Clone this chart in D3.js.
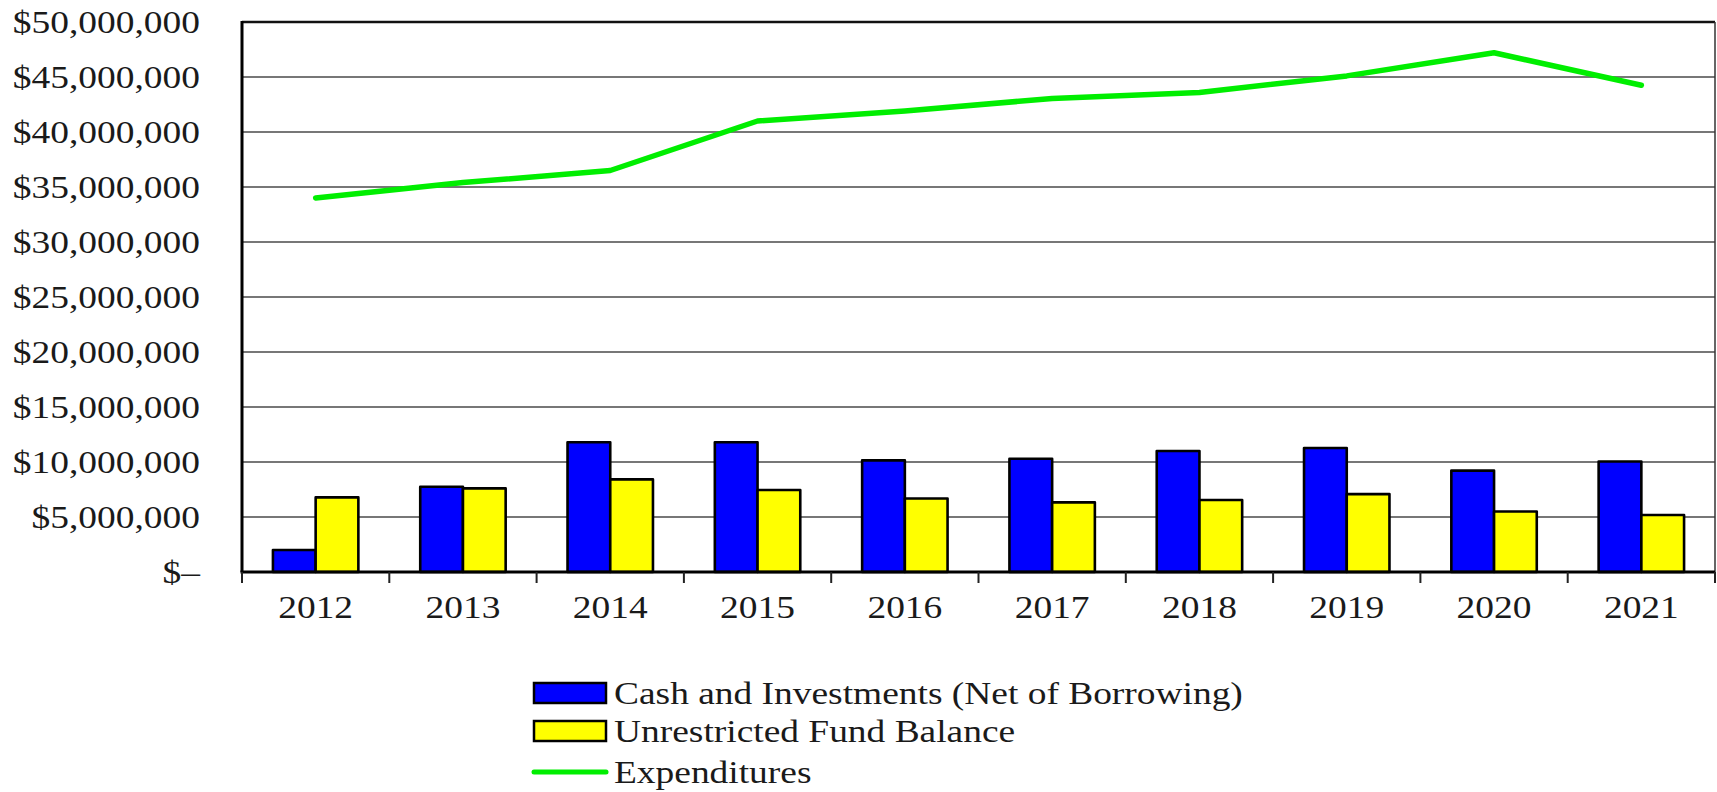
<!DOCTYPE html>
<html>
<head>
<meta charset="utf-8">
<script src="https://cdn.jsdelivr.net/npm/d3@7"></script>
<style>
  html, body { margin: 0; padding: 0; background: #fff; }
  svg { display: block; }
  text { font-family: "Liberation Serif", "Times New Roman", serif; fill: #1a1a1a; }
</style>
</head>
<body>
<svg id="chart" width="1717" height="792"></svg>
<script>
const years = ["2012","2013","2014","2015","2016","2017","2018","2019","2020","2021"];
const cashInvestments = [2000000, 7750000, 11800000, 11800000, 10150000, 10300000, 11000000, 11270000, 9220000, 10050000];
const unrestrictedBalance = [6780000, 7600000, 8420000, 7450000, 6680000, 6330000, 6550000, 7080000, 5500000, 5180000];
const expenditures = [34000000, 35400000, 36500000, 41000000, 41900000, 43050000, 43600000, 45100000, 47200000, 44250000];
const yTicks = [0, 5000000, 10000000, 15000000, 20000000, 25000000, 30000000, 35000000, 40000000, 45000000, 50000000];
const seriesNames = ["Cash and Investments (Net of Borrowing)", "Unrestricted Fund Balance", "Expenditures"];

const svg = d3.select("#chart");
const m = { left: 242, top: 22, right: 1715, bottom: 572 };
const stretch = 1.17;

const x = d3.scaleBand().domain(years).range([m.left, m.right]).paddingInner(0).paddingOuter(0);
const y = d3.scaleLinear().domain([0, 50000000]).range([m.bottom, m.top]);
const sub = d3.scaleBand().domain([0, 1]).range([0, x.bandwidth() * 0.58]);
const groupOffset = (x.bandwidth() - x.bandwidth() * 0.58) / 2;

// gridlines
svg.append("g").selectAll("line").data(yTicks.filter(d => d > 0 && d < 50000000)).join("line")
  .attr("x1", m.left).attr("x2", m.right)
  .attr("y1", d => y(d)).attr("y2", d => y(d))
  .attr("stroke", "#4a4a4a").attr("stroke-width", 1.6);

// frame top/right
svg.append("line").attr("x1", m.left).attr("x2", m.right).attr("y1", m.top).attr("y2", m.top)
  .attr("stroke", "#111").attr("stroke-width", 2.5);
svg.append("line").attr("x1", m.right).attr("x2", m.right).attr("y1", m.top).attr("y2", m.bottom)
  .attr("stroke", "#333").attr("stroke-width", 1.5);

// y axis labels
const yAxis = d3.axisLeft(y).tickValues(yTicks).tickSize(0).tickPadding(0)
  .tickFormat(d => d === 0 ? "$\u2013" : d3.format("$,")(d));
const gy = svg.append("g").attr("transform", `translate(${200},0)`).call(yAxis);
gy.select(".domain").remove();
gy.selectAll("text").attr("font-size", 32).attr("dy", "0.34em")
  .attr("transform", `scale(${stretch},1)`)
  .attr("font-family", "'Liberation Serif', serif").attr("fill", "#1a1a1a");

// bars
const barData = [];
years.forEach((yr, i) => {
  barData.push({ yr, k: 0, v: cashInvestments[i], c: "#0000ff" });
  barData.push({ yr, k: 1, v: unrestrictedBalance[i], c: "#ffff00" });
});
svg.append("g").selectAll("rect").data(barData).join("rect")
  .attr("x", d => x(d.yr) + groupOffset + sub(d.k))
  .attr("width", sub.bandwidth())
  .attr("y", d => y(d.v))
  .attr("height", d => y(0) - y(d.v))
  .attr("fill", d => d.c)
  .attr("stroke", "#000").attr("stroke-width", 2.6).attr("stroke-linejoin", "round");

// line
const line = d3.line().x((d, i) => x(years[i]) + x.bandwidth() / 2).y(d => y(d));
svg.append("path").datum(expenditures).attr("d", line)
  .attr("fill", "none").attr("stroke", "#00ee00").attr("stroke-width", 5.5)
  .attr("stroke-linecap", "round").attr("stroke-linejoin", "round");

// left axis line
svg.append("line").attr("x1", m.left).attr("x2", m.left).attr("y1", m.top - 1).attr("y2", m.bottom)
  .attr("stroke", "#000").attr("stroke-width", 3);

// bottom axis
const xAxis = d3.axisBottom(x).tickSize(0).tickPadding(0);
const gx = svg.append("g").attr("transform", `translate(0,${m.bottom})`).call(xAxis);
gx.select(".domain").remove();
gx.selectAll("text").attr("font-size", 32).attr("dy", "1.45em")
  .attr("transform", `scale(${stretch},1)`)
  .attr("font-family", "'Liberation Serif', serif").attr("fill", "#1a1a1a");
svg.append("line").attr("x1", m.left - 1.5).attr("x2", m.right).attr("y1", m.bottom).attr("y2", m.bottom)
  .attr("stroke", "#000").attr("stroke-width", 3);
const boundaries = years.map(yr => x(yr)).concat([m.right]);
svg.append("g").selectAll("line").data(boundaries).join("line")
  .attr("x1", d => d).attr("x2", d => d).attr("y1", m.bottom).attr("y2", m.bottom + 11)
  .attr("stroke", "#222").attr("stroke-width", 2);

// legend
const legend = svg.append("g");
const lgX = 534, lgW = 72, rows = [693, 731, 772];
const swCols = ["#0000ff", "#ffff00"];
[0, 1].forEach(i => {
  legend.append("rect").attr("x", lgX).attr("y", rows[i] - 10).attr("width", lgW).attr("height", 20)
    .attr("fill", swCols[i]).attr("stroke", "#000").attr("stroke-width", 2.5);
});
legend.append("line").attr("x1", lgX).attr("x2", lgX + lgW).attr("y1", rows[2]).attr("y2", rows[2])
  .attr("stroke", "#00ee00").attr("stroke-width", 5).attr("stroke-linecap", "round");
legend.selectAll("text.lg").data(seriesNames).join("text").attr("class", "lg")
  .attr("transform", (d, i) => `translate(${lgX + lgW + 8},${rows[i]}) scale(${stretch},1)`)
  .attr("dy", "0.34em")
  .attr("font-size", 32).text(d => d);
</script>
</body>
</html>
